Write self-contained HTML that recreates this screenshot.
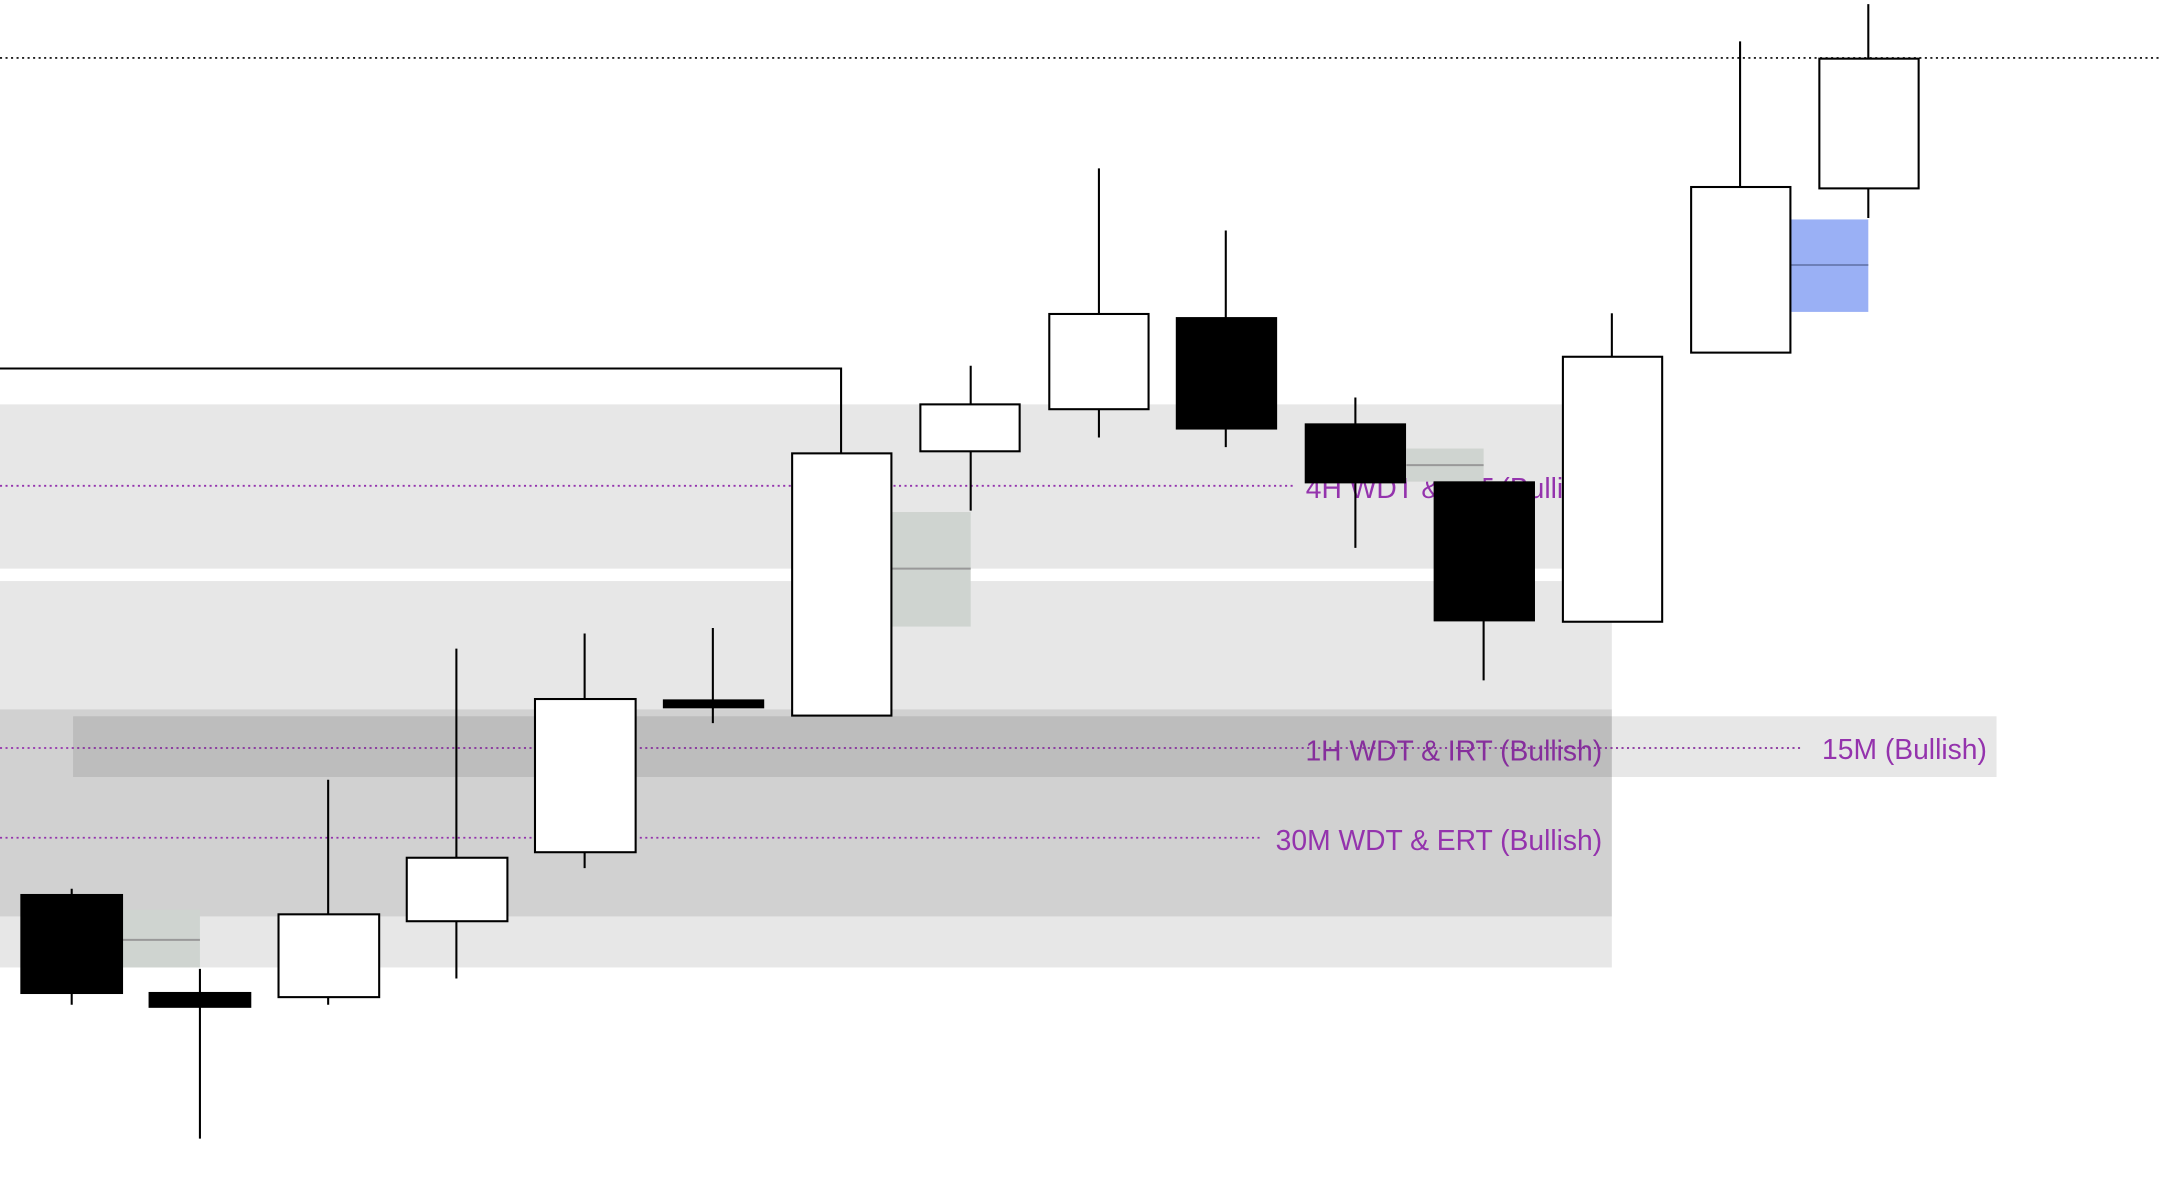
<!DOCTYPE html>
<html><head><meta charset="utf-8"><style>
html,body{margin:0;padding:0;background:#fff;}
svg{display:block;}
text{font-family:"Liberation Sans",sans-serif;font-size:20.5px;fill:#9433ad;}
</style></head><body>
<svg width="2162" height="1180" viewBox="0 0 1568 855" preserveAspectRatio="none" xmlns="http://www.w3.org/2000/svg">
<defs><clipPath id="c4"><rect x="0" y="293" width="1133" height="119"/></clipPath></defs>
<rect width="1568" height="855" fill="#fff"/>
<rect x="0" y="293" width="1133" height="119" fill="rgba(0,0,0,0.095)"/>
<rect x="0" y="421" width="1169" height="280" fill="rgba(0,0,0,0.095)"/>
<rect x="0" y="514" width="1169" height="150" fill="rgba(0,0,0,0.095)"/>
<g stroke="#9433ad" stroke-width="1.3" stroke-dasharray="1.5,2.5">
<line x1="0" y1="352" x2="940" y2="352"/>
<line x1="0" y1="542" x2="1308" y2="542"/>
<line x1="0" y1="607" x2="915" y2="607"/>
</g>
<text x="947" y="361" clip-path="url(#c4)">4H WDT &amp; IRT (Bullish)</text>
<text x="1162" y="551" text-anchor="end">1H WDT &amp; IRT (Bullish)</text>
<text x="1162" y="616" text-anchor="end">30M WDT &amp; ERT (Bullish)</text>
<rect x="53" y="519" width="1395" height="44" fill="rgba(0,0,0,0.095)"/>
<text x="1441" y="550" text-anchor="end">15M (Bullish)</text>
<line x1="0" y1="42" x2="1568" y2="42" stroke="#000" stroke-width="1.2" stroke-dasharray="1.5,2.5"/>
<rect x="89" y="659" width="56" height="42" fill="#cfd4d0"/><line x1="89" y1="681" x2="145" y2="681" stroke="#999" stroke-width="1.5"/>
<rect x="647" y="371" width="57" height="83" fill="#cfd4d0"/><line x1="647" y1="412" x2="704" y2="412" stroke="#999" stroke-width="1.5"/>
<rect x="1020" y="325" width="56" height="24" fill="#cfd4d0"/><line x1="1020" y1="337" x2="1076" y2="337" stroke="#999" stroke-width="1.5"/>
<rect x="1299" y="159" width="56" height="67" fill="#9ab0f5"/><line x1="1299" y1="192" x2="1355" y2="192" stroke="#6d7fb8" stroke-width="1.5"/>
<polyline points="0,267 610,267 610,328" fill="none" stroke="#000" stroke-width="1.5"/>
<g stroke="#000" stroke-width="1.5">
<line x1="52" y1="644" x2="52" y2="728"/><rect x="15.5" y="648.5" width="73" height="71" fill="#000"/>
<line x1="145" y1="702" x2="145" y2="825"/><rect x="108.5" y="719.5" width="73" height="10" fill="#000"/>
<line x1="238" y1="565" x2="238" y2="728"/><rect x="202" y="662.5" width="73" height="60" fill="#fff"/>
<line x1="331" y1="470" x2="331" y2="709"/><rect x="295" y="621.5" width="73" height="46" fill="#fff"/>
<line x1="424" y1="459" x2="424" y2="629"/><rect x="388" y="506.5" width="73" height="111" fill="#fff"/>
<line x1="517" y1="455" x2="517" y2="524"/><rect x="481.5" y="507.5" width="72" height="5" fill="#000"/>
<rect x="574.5" y="328.5" width="72" height="190" fill="#fff"/>
<line x1="704" y1="265" x2="704" y2="370"/><rect x="667.5" y="293" width="72" height="34" fill="#fff"/>
<line x1="797" y1="122" x2="797" y2="317"/><rect x="761" y="227.5" width="72" height="69" fill="#fff"/>
<line x1="889" y1="167" x2="889" y2="324"/><rect x="853.5" y="230.5" width="72" height="80" fill="#000"/>
<line x1="983" y1="288" x2="983" y2="397"/><rect x="947" y="307.5" width="72" height="42" fill="#000"/>
<line x1="1076" y1="349" x2="1076" y2="493"/><rect x="1040.5" y="349.5" width="72" height="100" fill="#000"/>
<line x1="1169" y1="227" x2="1169" y2="258"/><rect x="1133.5" y="258.5" width="72" height="192" fill="#fff"/>
<line x1="1262" y1="30" x2="1262" y2="135"/><rect x="1226.5" y="135.5" width="72" height="120" fill="#fff"/>
<line x1="1355" y1="3" x2="1355" y2="158"/><rect x="1319.5" y="42.5" width="72" height="94" fill="#fff"/>
</g>
</svg>
</body></html>
